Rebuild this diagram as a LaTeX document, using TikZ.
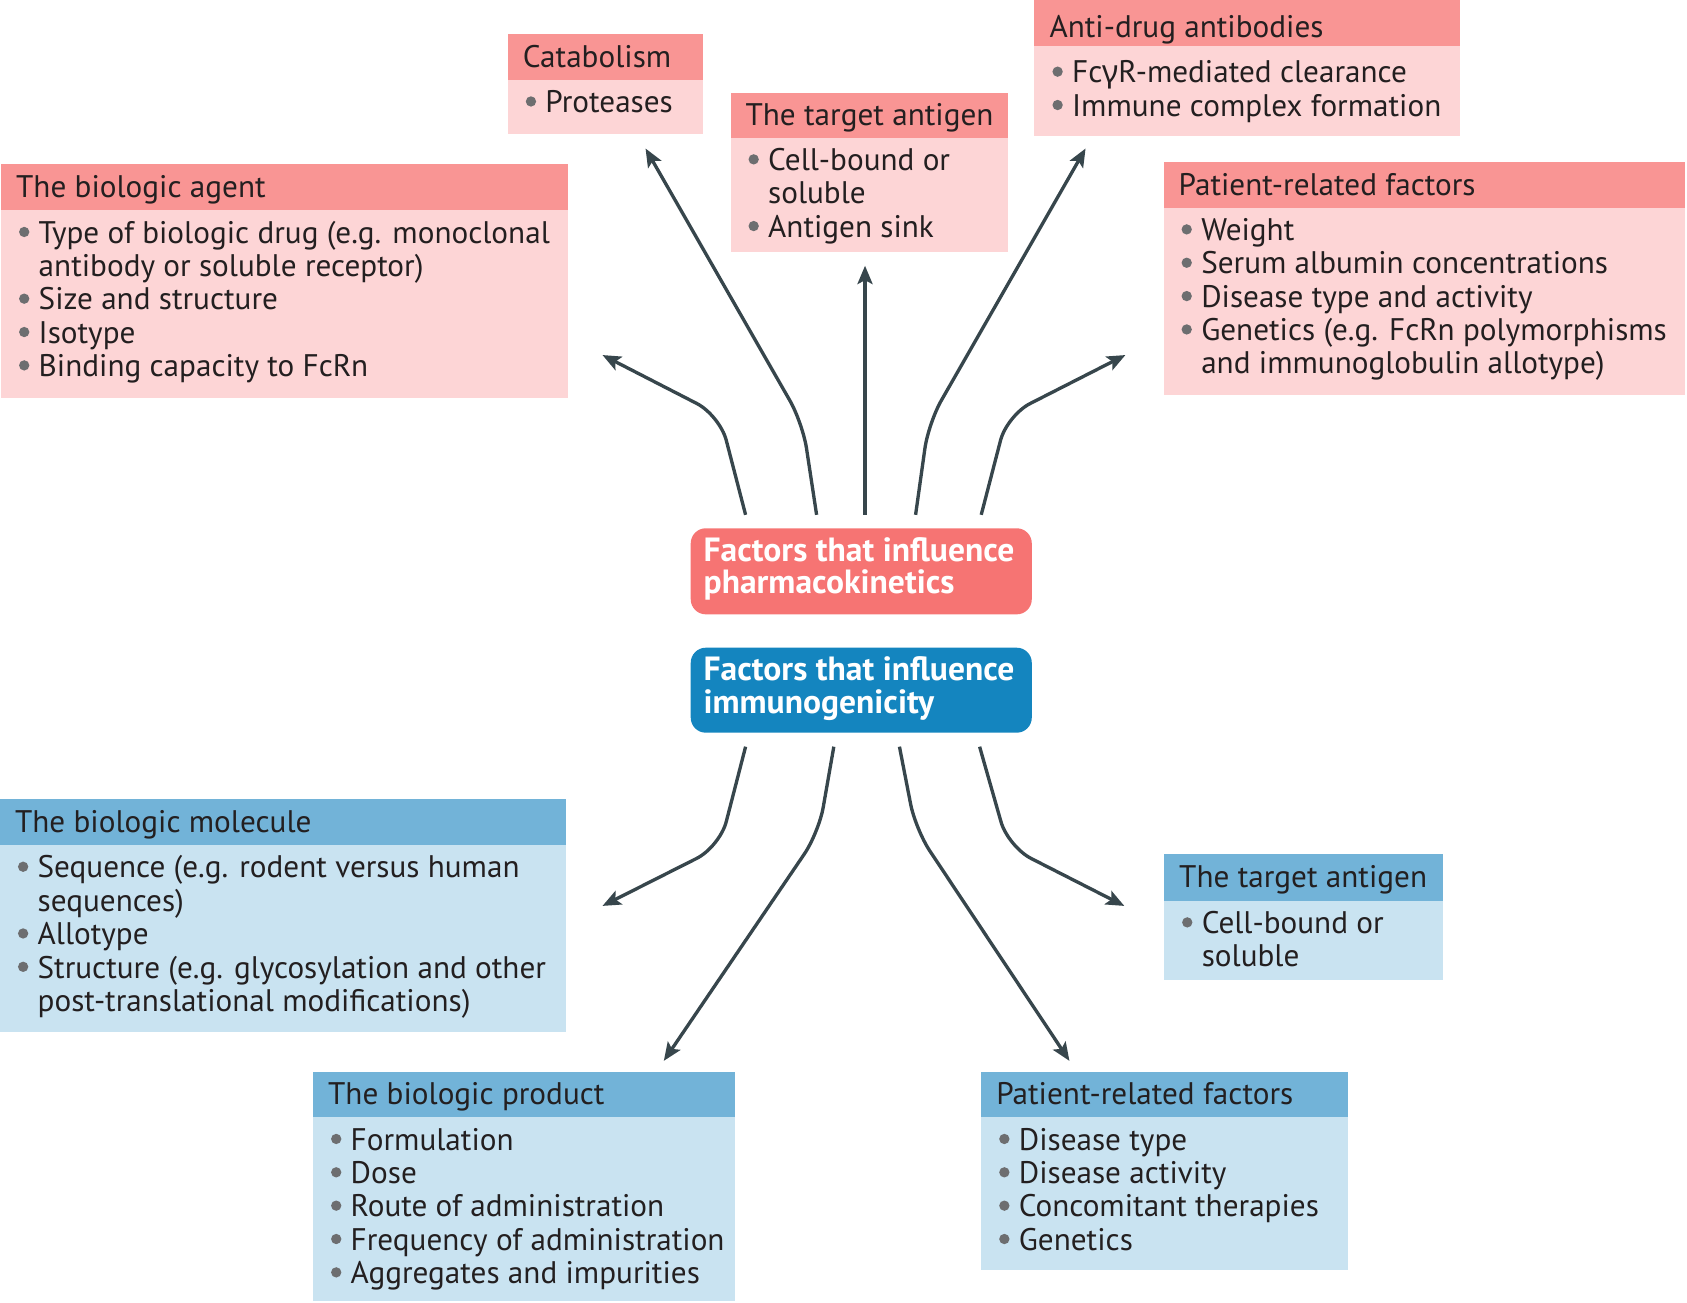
\documentclass[tikz,border=0pt]{standalone}
\usepackage{fontspec}
\setmainfont{PT Sans}
\newfontfamily\grk{Noto Sans}
\usetikzlibrary{arrows.meta,fit}
\definecolor{pkhead}{HTML}{F99594}
\definecolor{pkbody}{HTML}{FDD5D6}
\definecolor{blhead}{HTML}{72B3D8}
\definecolor{blbody}{HTML}{C9E3F1}
\definecolor{pkcenter}{HTML}{F67473}
\definecolor{blcenter}{HTML}{1485BF}
\definecolor{arrowc}{HTML}{37464C}
\definecolor{bulgray}{HTML}{6D6E70}
\definecolor{txt}{HTML}{231F20}
\newlength\bulw \setlength\bulw{9.5pt}
\newcommand\bdot{\tikz[baseline=0pt]{\useasboundingbox (0pt,0pt) rectangle (\bulw,1pt);\fill[bulgray] (2.75pt,5.2pt) circle (2.4pt);}}
\newcommand\bi[1]{\hbox{\makebox[\bulw][l]{\bdot}#1}}
\newcommand\ci[1]{\hbox{\hspace*{\bulw}#1}}
\newcommand\blist[1]{\vtop{\baselineskip=15.5pt\lineskiplimit=-50pt\relax #1}}
\newcommand\clines[2]{\vtop{\baselineskip=15pt\lineskiplimit=-50pt\relax\hbox{#1}\hbox{#2}}}
\newcommand\mkbox[9]{%
  \node[fit={(#2,#3) (#4,#6)}, fill=#7body] (#1) {};
  \node[fit={(#2,#3) (#4,#5)}, fill=#7head] (#1head) {};
  \node[anchor=base west] (#1title) at ({#2+14},#8) {#9};
}
\begin{document}
\begin{tikzpicture}[x=0.5pt,y=-0.5pt,
  every node/.style={inner sep=0pt,outer sep=0pt,text=txt,font=\fontsize{14.5}{15.5}\selectfont},
  centertext/.style={anchor=base west,text=white,font=\bfseries\fontsize{15.6}{15}\selectfont},
  arr/.style={draw=arrowc,line width=1.55pt,rounded corners=12pt,-{Stealth[length=8.5pt,width=7pt,inset=1.8pt]}}]
\useasboundingbox (0,0) rectangle (1568,1211);

% ---------- top (pharmacokinetics) boxes ----------
\mkbox{cat}{472}{32}{653}{74.3}{124.5}{pk}{62.5}{Catabolism}
\node[anchor=base west] (cattext) at (488,104.7) {\blist{\bi{Proteases}}};

\mkbox{tgt}{679}{86}{937}{128.5}{234.5}{pk}{116.5}{The target antigen}
\node[anchor=base west] (tgttext) at (695,158.5) {\blist{\bi{Cell-bound or}\ci{soluble}\bi{Antigen sink}}};

\mkbox{ada}{961.5}{0}{1357}{42.4}{126.3}{pk}{35}{Anti-drug antibodies}
\node[anchor=base west] (adatext) at (977.5,77) {\blist{\bi{Fc{\grk γ}R-mediated clearance}\bi{Immune complex formation}}};

\mkbox{pat}{1081.5}{151}{1566}{193.5}{367}{pk}{181.5}{Patient-related factors}
\node[anchor=base west] (pattext) at (1097.5,223.6) {\blist{\bi{Weight}\bi{Serum albumin concentrations}\bi{Disease type and activity}\bi{Genetics (e.g. FcRn polymorphisms}\ci{and immunoglobulin allotype)}}};

\mkbox{agt}{1}{152}{527.5}{195}{369.5}{pk}{183.3}{The biologic agent}
\node[anchor=base west] (agttext) at (17,226) {\blist{\bi{Type of biologic drug (e.g. monoclonal}\ci{antibody or soluble receptor)}\bi{Size and structure}\bi{Isotype}\bi{Binding capacity to FcRn}}};

% ---------- bottom (immunogenicity) boxes ----------
\mkbox{mol}{0}{742.5}{526}{785}{959}{bl}{773.6}{The biologic molecule}
\node[anchor=base west] (moltext) at (16,816) {\blist{\bi{Sequence (e.g. rodent versus human}\ci{sequences)}\bi{Allotype}\bi{Structure (e.g. glycosylation and other}\ci{post-translational modifications)}}};

\mkbox{tgb}{1082}{794}{1341}{837}{911}{bl}{825.3}{The target antigen}
\node[anchor=base west] (tgbtext) at (1098,867.7) {\blist{\bi{Cell-bound or}\ci{soluble}}};

\mkbox{prd}{291}{996}{683.5}{1038.4}{1209}{bl}{1026.8}{The biologic product}
\node[anchor=base west] (prdtext) at (307,1069) {\blist{\bi{Formulation}\bi{Dose}\bi{Route of administration}\bi{Frequency of administration}\bi{Aggregates and impurities}}};

\mkbox{pab}{912}{996}{1253}{1038.4}{1180.5}{bl}{1026.8}{Patient-related factors}
\node[anchor=base west] (pabtext) at (928,1069) {\blist{\bi{Disease type}\bi{Disease activity}\bi{Concomitant therapies}\bi{Genetics}}};

% ---------- centre boxes ----------
\node[fit={(642,491) (959,571)}, fill=pkcenter, rounded corners=7pt] (pk) {};
\node[centertext] (pktext) at (654,522) {\clines{Factors that influence}{pharmacokinetics}};
\node[fit={(642,602) (959,681)}, fill=blcenter, rounded corners=7pt] (im) {};
\node[centertext] (imtext) at (654,632.7) {\clines{Factors that influence}{immunogenicity}};

% ---------- arrows ----------
\coordinate (a0) at (693,478.5); \coordinate (a1) at (669,386); \coordinate (a2) at (560,330);
\coordinate (b0) at (759,478.5); \coordinate (b1) at (746,393); \coordinate (b2) at (600,138);
\coordinate (c0) at (804,478.5); \coordinate (c2) at (804,247);
\coordinate (d0) at (851,478.5); \coordinate (d1) at (863,393); \coordinate (d2) at (1009,138);
\coordinate (e0) at (912,478.5); \coordinate (e1) at (936,386); \coordinate (e2) at (1046,330);
\coordinate (f0) at (693,694); \coordinate (f1) at (669,787); \coordinate (f2) at (560,842);
\coordinate (g0) at (775,694); \coordinate (g1) at (761,774); \coordinate (g2) at (617,986);
\coordinate (h0) at (836,694); \coordinate (h1) at (851,771); \coordinate (h2) at (994,986);
\coordinate (i0) at (910.5,694); \coordinate (i1) at (937,787); \coordinate (i2) at (1045,842);
\draw[arr] (a0) -- (a1) -- (a2);
\draw[arr] (b0) -- (b1) -- (b2);
\draw[arr] (c0) -- (c2);
\draw[arr] (d0) -- (d1) -- (d2);
\draw[arr] (e0) -- (e1) -- (e2);
\draw[arr] (f0) -- (f1) -- (f2);
\draw[arr] (g0) -- (g1) -- (g2);
\draw[arr] (h0) -- (h1) -- (h2);
\draw[arr] (i0) -- (i1) -- (i2);
\end{tikzpicture}
\end{document}
